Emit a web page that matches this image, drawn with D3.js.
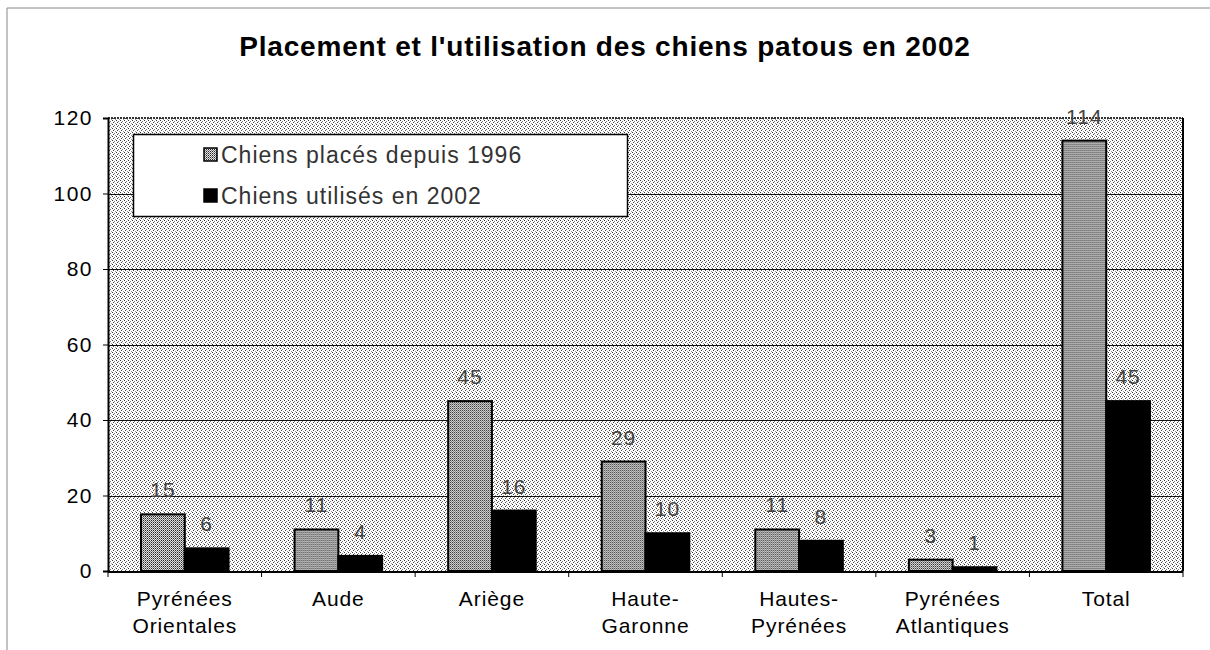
<!DOCTYPE html>
<html>
<head>
<meta charset="utf-8">
<script src="https://cdn.jsdelivr.net/npm/d3@7"></script>
<style>
  body { margin: 0; background: #fff; }
  svg { display: block; font-family: Arial, "Liberation Sans", sans-serif; }
</style>
</head>
<body>
<svg id="chart" width="1210" height="650"></svg>
<script>
// Placement et utilisation des chiens patous, 2002
const categories = [
  ['Pyrénées', 'Orientales'], ['Aude'], ['Ariège'], ['Haute-', 'Garonne'],
  ['Hautes-', 'Pyrénées'], ['Pyrénées', 'Atlantiques'], ['Total']
];
const seriesNames = ['Chiens placés depuis 1996', 'Chiens utilisés en 2002'];
const placed = [15, 11, 45, 29, 11, 3, 114];
const used = [6, 4, 16, 10, 8, 1, 45];
const yTicks = [0, 20, 40, 60, 80, 100, 120];

const svg = d3.select('#chart');
const plot = { left: 108, right: 1183, top: 118, bottom: 571 };

// dithered textures, like the scanned excel print
const defs = svg.append('defs');
function dither(id, size, dots, bg) {
  const p = defs.append('pattern').attr('id', id).attr('patternUnits', 'userSpaceOnUse')
    .attr('width', size).attr('height', size);
  p.append('rect').attr('width', size).attr('height', size).attr('fill', bg);
  dots.forEach(([x, y, c]) => p.append('rect').attr('x', x).attr('y', y).attr('width', 1).attr('height', 1).attr('fill', c || '#000'));
}
dither('bgDots', 4, [[0, 0, '#333'], [2, 1, '#777'], [1, 2, '#444'], [3, 3, '#999']], '#fff');
dither('barDots', 2, [[0, 0, '#222'], [1, 1, '#777']], '#e4e4e4');

// outer frame
svg.append('path').attr('d', 'M7,650 V8 H1210').attr('fill', 'none').attr('stroke', '#888').attr('stroke-width', 1);

svg.append('text').attr('x', 605).attr('y', 56).attr('text-anchor', 'middle')
  .attr('font-size', 28).attr('font-weight', 'bold').attr('letter-spacing', 0.8).attr('fill', '#000')
  .text("Placement et l'utilisation des chiens patous en 2002");

const x = d3.scaleBand().domain(d3.range(categories.length))
  .range([plot.left, plot.right]).paddingInner(0.43).paddingOuter(0.215);
const xs = d3.scaleBand().domain([0, 1]).range([0, x.bandwidth()]);
const y = d3.scaleLinear().domain([0, 120]).range([plot.bottom, plot.top]);

// plot area
svg.append('rect').attr('x', plot.left).attr('y', plot.top)
  .attr('width', plot.right - plot.left).attr('height', plot.bottom - plot.top)
  .attr('fill', 'url(#bgDots)');

// gridlines
svg.append('g').selectAll('line').data(yTicks.filter(d => d > 0 && d < 120)).join('line')
  .attr('x1', plot.left).attr('x2', plot.right)
  .attr('y1', d => Math.round(y(d)) + 0.5).attr('y2', d => Math.round(y(d)) + 0.5)
  .attr('stroke', '#111').attr('stroke-width', 1);

// plot border
svg.append('line').attr('x1', plot.left).attr('x2', plot.right).attr('y1', plot.top).attr('y2', plot.top)
  .attr('stroke', '#333').attr('stroke-width', 2).attr('stroke-dasharray', '2,1');
svg.append('line').attr('x1', plot.right).attr('x2', plot.right).attr('y1', plot.top).attr('y2', plot.bottom)
  .attr('stroke', '#000').attr('stroke-width', 2);

// bars
const groups = svg.append('g').selectAll('g').data(categories.map((c, i) => i)).join('g')
  .attr('transform', i => `translate(${x(i)},0)`);
const vals = i => [placed[i], used[i]];
groups.selectAll('rect').data(i => vals(i)).join('rect')
  .attr('x', (d, k) => xs(k)).attr('width', xs.bandwidth())
  .attr('y', d => y(d)).attr('height', d => y(0) - y(d))
  .attr('fill', (d, k) => k === 0 ? 'url(#barDots)' : '#000')
  .attr('stroke', '#000').attr('stroke-width', 2);
groups.selectAll('text').data(i => vals(i)).join('text')
  .attr('x', (d, k) => xs(k) + xs.bandwidth() / 2).attr('y', d => y(d) - 17)
  .attr('text-anchor', 'middle').attr('font-size', 21).attr('letter-spacing', 1).attr('fill', '#444')
  .text(d => d);

// axes
const yAxis = svg.append('g').attr('transform', `translate(${plot.left},0)`)
  .call(d3.axisLeft(y).tickValues(yTicks).tickSize(5).tickPadding(10));
yAxis.select('.domain').attr('stroke', '#000').attr('stroke-width', 2);
yAxis.selectAll('text').attr('font-size', 21).attr('letter-spacing', 1.5).attr('fill', '#000')
  .attr('font-family', 'Arial, "Liberation Sans", sans-serif');

const bounds = d3.range(categories.length + 1).map(i => plot.left + i * (plot.right - plot.left) / categories.length);
svg.append('line').attr('x1', plot.left).attr('x2', plot.right).attr('y1', plot.bottom + 1).attr('y2', plot.bottom + 1)
  .attr('stroke', '#000').attr('stroke-width', 2);
svg.append('g').selectAll('line').data(bounds).join('line')
  .attr('x1', d => d).attr('x2', d => d).attr('y1', plot.bottom).attr('y2', plot.bottom + 6)
  .attr('stroke', '#000').attr('stroke-width', 1);

const xl = svg.append('g').selectAll('text').data(categories).join('text')
  .attr('x', (d, i) => x(i) + x.bandwidth() / 2).attr('y', 606)
  .attr('text-anchor', 'middle').attr('font-size', 21).attr('letter-spacing', 0.9).attr('fill', '#000');
xl.selectAll('tspan').data(d => d).join('tspan')
  .attr('x', function () { return this.parentNode.getAttribute('x'); })
  .attr('dy', (d, k) => k === 0 ? 0 : 27).text(d => d);

// legend
const lg = svg.append('g');
lg.append('rect').attr('x', 133.5).attr('y', 134.5).attr('width', 494).attr('height', 82)
  .attr('fill', '#fff').attr('stroke', '#000').attr('stroke-width', 1.5);
const items = lg.selectAll('g').data(seriesNames).join('g')
  .attr('transform', (d, k) => `translate(204,${155 + k * 41})`);
items.append('rect').attr('x', 0).attr('y', -7).attr('width', 13).attr('height', 13)
  .attr('fill', (d, k) => k === 0 ? 'url(#barDots)' : '#000').attr('stroke', '#000').attr('stroke-width', 1.5);
items.append('text').attr('x', 17).attr('y', 8).attr('font-size', 23).attr('letter-spacing', 1).attr('fill', '#333').text(d => d);
</script>
</body>
</html>
